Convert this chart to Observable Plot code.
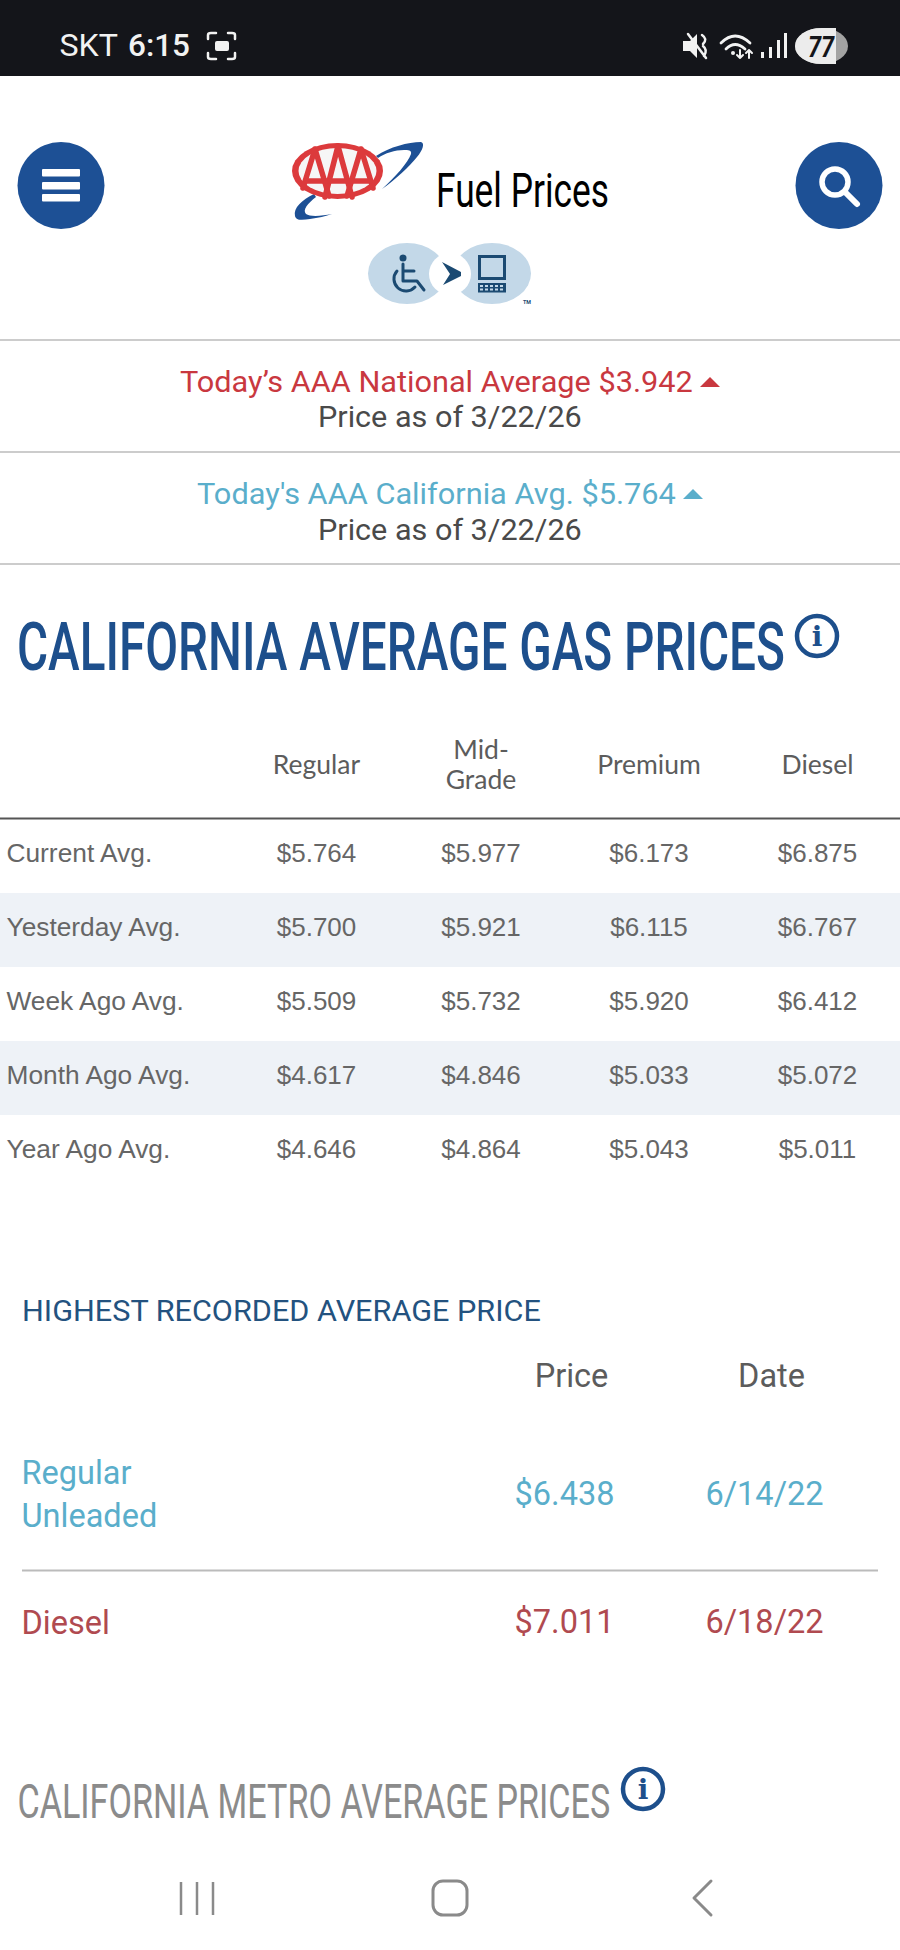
<!DOCTYPE html>
<html><head><meta charset="utf-8">
<script src="https://cdn.jsdelivr.net/npm/d3@7"></script>
<script src="https://cdn.jsdelivr.net/npm/@observablehq/plot@0.6"></script>
<style>
html,body{margin:0;padding:0;background:#fff;}
#page{position:relative;width:900px;height:1950px;overflow:hidden;background:#fff;}
#page>svg,#page>div{position:absolute;left:0;}
g[aria-label="table header"] text{letter-spacing:-1px;}
</style></head><body><div id="page"></div>
<script>
// ---------- data ----------
const fuelGrades = ["Regular", "Mid-\nGrade", "Premium", "Diesel"];
const periods = ["Current Avg.", "Yesterday Avg.", "Week Ago Avg.", "Month Ago Avg.", "Year Ago Avg."];
const regularPrices = ["$5.764", "$5.700", "$5.509", "$4.617", "$4.646"];
const midGradePrices = ["$5.977", "$5.921", "$5.732", "$4.846", "$4.864"];
const premiumPrices = ["$6.173", "$6.115", "$5.920", "$5.033", "$5.043"];
const dieselPrices = ["$6.875", "$6.767", "$6.412", "$5.072", "$5.011"];
const recordColumns = ["Price", "Date"];
const recordFuels = ["Regular\nUnleaded", "Diesel"];
const recordPrices = ["$6.438", "$7.011"];
const recordDates = ["6/14/22", "6/18/22"];

const GREY = "#5c5c5c", NAVY = "#1d4f8c", TEAL = "#5aaecb", RED = "#c9383f", DULLRED = "#b04a50";
const page = d3.select("#page");

// ---------- page furniture ----------
const svg = page.append("svg").attr("width", 900).attr("height", 1950).style("top", 0);
function txt(s, x, y, len, size, fill, family = "Roboto", weight = 400) {
  const t = svg.append("text").attr("font-size", size)
    .attr("font-family", family).attr("font-weight", weight).attr("fill", fill).text(s);
  const k = len ? len / t.node().getComputedTextLength() : 1;
  t.attr("transform", `translate(${x},${y}) scale(${k},1)`);
  return t;
}
function info(cx, cy) {
  svg.append("circle").attr("cx", cx).attr("cy", cy).attr("r", 20).attr("fill", "#fff").attr("stroke", "#1d4f8c").attr("stroke-width", 4.5);
  svg.append("text").attr("x", cx).attr("y", cy + 10).attr("text-anchor", "middle").attr("font-size", 28)
    .attr("font-family", "DejaVu Serif").attr("font-weight", 700).attr("fill", "#1d4f8c").text("i");
}
const rect = (x, y, w, h, fill, r = 0) => svg.append("rect").attr("x", x).attr("y", y).attr("width", w).attr("height", h).attr("fill", fill).attr("rx", r);
const path = (d, fill, stroke, sw) => svg.append("path").attr("d", d).attr("fill", fill || "none").attr("stroke", stroke || "none").attr("stroke-width", sw || 0).attr("stroke-linecap", "round").attr("stroke-linejoin", "round");
const ell = (cx, cy, rx, ry, fill) => svg.append("ellipse").attr("cx", cx).attr("cy", cy).attr("rx", rx).attr("ry", ry).attr("fill", fill);

// status bar
rect(0, 0, 900, 76, "#14151a");
txt("SKT", 59.5, 56, 58.5, 31, "#f2f2f2");
txt("6:15", 128, 56, 62, 31, "#f2f2f2", "Roboto", 500);
path("M208,39V35Q208,33 211,33H216M228,33H232Q235,33 235,35V39M208,53V57Q208,59 211,59H216M228,59H232Q235,59 235,57V53", null, "#f2f2f2", 2.5);
rect(215, 41, 14, 10, "#f2f2f2", 2);
path("M683,41H690L697,34V58L690,51H683Z", "#f2f2f2");
path("M688,34L706,58M702,35Q708,39 703,44M703,46Q708,50 704,56", null, "#f2f2f2", 2.5);
path("M721,43Q735,29 750,43M726,49Q735,40 745,49", null, "#f2f2f2", 2.8);
ell(733, 53, 2, 2, "#f2f2f2");
path("M740,50V58M737,55L740,58L743,55M749,58V50M746,53L749,50L752,53", null, "#f2f2f2", 2);
[[762, 52], [770, 47], [778, 40], [785, 33]].forEach(([x, y]) => rect(x - 1, y, 3, 58 - y, "#f2f2f2"));
ell(821.5, 46, 26.5, 18, "#a3a3a3");
svg.append("path").attr("d", "M836,28H821.5A26.5,18 0 0 0 821.5,64H836Z").attr("fill", "#ececec");
txt("77", 808, 57, 27, 30, "#14151a", "Roboto", 700).attr("font-style", "italic");

// header buttons
svg.append("circle").attr("cx", 61).attr("cy", 185.5).attr("r", 43.5).attr("fill", "#1d5095");
[169, 182, 194].forEach(y => rect(42, y, 38, 7.5, "#fff", 1));
svg.append("circle").attr("cx", 839).attr("cy", 185.5).attr("r", 43.5).attr("fill", "#1d5095");
svg.append("circle").attr("cx", 835).attr("cy", 182).attr("r", 13).attr("fill", "none").attr("stroke", "#fff").attr("stroke-width", 5.5);
path("M846,193L857,204", null, "#fff", 6);

// AAA logo
path("M376,156C390,147 408,142 421,142C425,143 423,150 417,157C410,166 395,180 382,189C395,177 408,163 411,154C412,150 408,150 404,150C395,150 385,153 378,158Z", "#1d5095");
path("M314,194C302,200 293,208 295,216C296,221 303,220 310,219C318,218 326,216 332,214C322,216 310,217 306,214C302,210 308,203 316,197Z", "#1d5095");
ell(337.5, 171, 45.5, 28, "#dc3a3c");
ell(337.5, 171, 39, 23, "#f6f6f6");
const aaa = svg.append("g").attr("stroke", "#dc3a3c").attr("fill", "none").attr("stroke-width", 5.5).attr("stroke-linecap", "round");
["M315,149L303,188M315,149L329,196", "M338,146L325,197M338,146L352,197", "M361,149L347,196M361,149L373,188", "M306,181H370"].forEach(d => aaa.append("path").attr("d", d));
txt("Fuel Prices", 436, 206.5, 173, 48, "#000", "Roboto", 400);

// accessibility badge
ell(407, 273.5, 39, 30.5, "#c3d8e8");
ell(492, 273.5, 39, 30.5, "#c3d8e8");
svg.append("circle").attr("cx", 450).attr("cy", 274).attr("r", 21).attr("fill", "#fff");
svg.append("circle").attr("cx", 403).attr("cy", 258).attr("r", 3.5).attr("fill", "#1b4a72");
path("M403,264V281H417L424,290M403,271H414M397,271A11,11 0 1 0 415,287", null, "#1b4a72", 3);
path("M442,262L461,272V276L443,285L450,274Z", "#1b4a72");
rect(479.5, 256.5, 25, 22, "none").attr("stroke", "#1b4a72").attr("stroke-width", 3);
rect(478, 283, 28, 9.5, "#1b4a72");
[0, 1, 2, 3, 4].forEach(i => { rect(480 + i * 5, 285, 3, 2, "#c3d8e8"); rect(480 + i * 5, 288.5, 3, 2, "#c3d8e8"); });
txt("TM", 523, 304, 8, 6, "#1b4a72", "Roboto", 700);

// banners
[340, 452, 564].forEach(y => rect(0, y - 1, 900, 2, "#cccccc"));
txt("Today\u2019s AAA National Average $3.942", 180, 392, 513, 29, RED);
path("M700,387L710,377L720,387Z", RED);
txt("Price as of 3/22/26", 318, 427, 264, 29, "#4a4a4a");
txt("Today's AAA California Avg. $5.764", 197, 504, 479, 29, TEAL);
path("M683,499L693,489L703,499Z", TEAL);
txt("Price as of 3/22/26", 318, 540, 264, 29, "#4a4a4a");

// section titles
txt("CALIFORNIA AVERAGE GAS PRICES", 17, 670, 768, 67.5, NAVY, "Roboto", 500);
info(817, 636);
txt("HIGHEST RECORDED AVERAGE PRICE", 22, 1320.5, 519, 29, "#23527f");
txt("CALIFORNIA METRO AVERAGE PRICES", 17.5, 1817.5, 593, 48, "#8b8b8b", "Roboto", 400);
info(643, 1789);

// navigation bar
[181, 197, 213].forEach(x => rect(x - 1.25, 1882, 2.5, 33, "#8a8a8a"));
rect(433, 1881, 34, 34, "none", 10).attr("stroke", "#8a8a8a").attr("stroke-width", 3);
path("M711,1881L694,1898L711,1915", null, "#8a8a8a", 3);

// ---------- price table ----------
const gradePrices = [regularPrices, midGradePrices, premiumPrices, dieselPrices];
const gradeNudge = [0, -2.5, -1.5, 0];
const stripeRows = periods.filter((_, i) => i % 2 === 1);
const tableY = ["header", ...periods];
const table = Plot.plot({
  width: 900, height: 480, margin: 0,
  style: {background: "transparent"},
  x: {type: "point", domain: fuelGrades, range: [315, 817], padding: 0, axis: null},
  y: {type: "band", domain: tableY, range: [20, 466.4], padding: 0, axis: null},
  marks: [
    Plot.cell(stripeRows, {y: d => d, fill: "#eef2f7"}),
    Plot.ruleY(["Current Avg."], {y: d => d, dy: -38, stroke: "#555", strokeWidth: 2}),
    Plot.text(periods, {y: d => d, text: d => d, frameAnchor: "left", textAnchor: "start", dx: 6, dy: -3, fontFamily: "Liberation Sans", fontSize: 26.3, fill: "#666"}),
    ...fuelGrades.flatMap((grade, c) => [
      Plot.text([grade], {x: d => d, y: () => "header", text: d => d, dx: gradeNudge[c], dy: -18, fontFamily: "Lato", fontSize: 26.5, fill: GREY, lineHeight: 1.13, ariaLabel: "table header"}),
      Plot.text(gradePrices[c], {x: () => grade, y: (d, i) => periods[i], text: d => d, dx: gradeNudge[c], dy: -3, fontFamily: "Liberation Sans", fontSize: 26, fill: "#666"})
    ])
  ]
});
page.append("div").style("top", "724px").node().append(table);

// ---------- record table ----------
const recordSize = 32.5;
const fuelRow = (f, i, color, dy) => {
  const row = recordColumns.map((col, c) => ({fuel: f, col, value: [recordPrices, recordDates][c][i]}));
  return [
    Plot.text([f], {y: d => d, text: d => d, frameAnchor: "left", textAnchor: "start", dx: 21, dy: dy - 2.5, fontFamily: "Roboto", fontSize: recordSize, fill: color, lineHeight: 1.32}),
    Plot.text(row, {x: "col", y: "fuel", text: "value", dy, fontFamily: "Roboto", fontSize: recordSize, fill: color})
  ];
};
const record = Plot.plot({
  width: 900, height: 300, margin: 0,
  style: {background: "transparent"},
  x: {type: "point", domain: recordColumns, range: [563.5, 764], padding: 0, axis: null},
  y: {type: "point", domain: ["header", ...recordFuels], range: [25.6, 272], padding: 0, axis: null},
  marks: [
    Plot.ruleY(["Diesel"], {y: d => d, dy: -52, insetLeft: 22, insetRight: 22, stroke: "#bbb", strokeWidth: 2}),
    Plot.text(recordColumns, {x: d => d, y: () => "header", text: d => d, dx: 7, fontFamily: "Roboto", fontSize: recordSize, fill: GREY}),
    ...fuelRow(recordFuels[0], 0, TEAL, -5),
    ...fuelRow(recordFuels[1], 1, DULLRED, 0)
  ]
});
page.append("div").style("top", "1350px").node().append(record);
</script></body></html>
